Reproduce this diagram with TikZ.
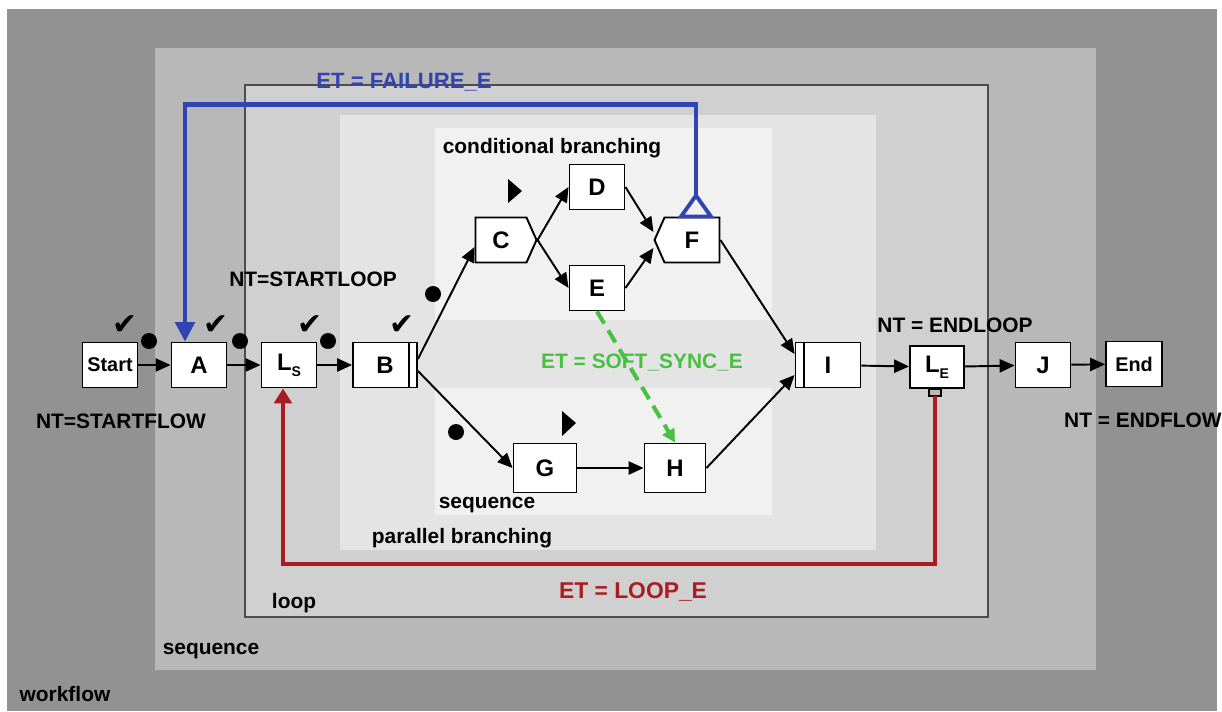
\documentclass[tikz,border=0pt]{standalone}
\usepackage{fontspec}
\setmainfont{Liberation Sans}
\newfontfamily\symfont{DejaVu Sans}
\usepackage{tikz}
\usetikzlibrary{arrows.meta,shapes.symbols}

\definecolor{wfgray}{RGB}{146,146,146}
\definecolor{seqgray}{RGB}{184,184,184}
\definecolor{loopgray}{RGB}{208,208,208}
\definecolor{pargray}{RGB}{228,228,228}
\definecolor{condgray}{RGB}{241,241,241}
\definecolor{failblue}{RGB}{48,68,178}
\definecolor{loopred}{RGB}{168,28,34}
\definecolor{syncgreen}{RGB}{72,192,64}
\newcommand{\lowsub}[1]{\raisebox{-0.45ex}{\fontsize{8}{9}\selectfont #1}}

\begin{document}
\begin{tikzpicture}[x=0.02cm, y=-0.02cm, >={Triangle[length=8.5pt,width=7.5pt]},
  every node/.style={font=\fontsize{11.9}{14}\selectfont\bfseries},
  task/.style={draw, line width=1.1pt, fill=white, minimum width=1.1cm, minimum height=0.9cm,
    inner sep=0pt, font=\fontsize{13.6}{16}\selectfont\bfseries},
  small/.style={font=\fontsize{11.3}{13}\selectfont\bfseries},
  flow/.style={->, line width=1.1pt},
  check/.style={font=\symfont\fontsize{17}{18}\selectfont},
  failbend/.style={draw=failblue, line width=2.4pt, -{Triangle[length=11pt,width=11pt]}},
  loopbend/.style={draw=loopred, line width=2.4pt, -{Triangle[length=8.5pt,width=10pt]}},
  syncline/.style={draw=syncgreen, line width=2.3pt, dash pattern=on 8pt off 4.5pt,
    -{Triangle[length=7.5pt,width=7.5pt]}}]
  % Nested blocks
  \useasboundingbox (0,0) rectangle (1222,711);
  \fill[white] (0,0) rectangle (1222,711);
  \fill[wfgray] (7,9) rectangle (1217,711);
  \fill[seqgray] (155,48) rectangle (1096,670);
  \filldraw[fill=loopgray, draw=gray!60!black, line width=0.6pt] (245,85) rectangle (988,617);
  \fill[pargray] (340,115) rectangle (876,550);
  \fill[condgray] (435,128) rectangle (772,320);
  \fill[condgray] (435,388) rectangle (772,515);

  % Main line
  \node[task, small] (start) at (110,365) {Start};
  \node[task] (A) at (199,365) {A};
  \node[task] (Ls) at (289,365) {L\lowsub{S}};
  \node[task, minimum width=1.28cm] (B) at (385,365) {B};
  \draw[line width=1.1pt] ([xshift=-0.18cm]B.north east) -- ([xshift=-0.18cm]B.south east);

  % Branches
  \node[task, shape=signal, signal to=east, signal pointer angle=132, minimum width=1.22cm] (C) at (501,240) {C};
  \node[task] (D) at (597,187) {D};
  \node[task] (E) at (597,288) {E};
  \node[task, shape=signal, signal to=west, signal pointer angle=132, minimum width=1.3cm] (F) at (692,240) {F};
  \node[task, minimum width=1.26cm, minimum height=0.98cm] (G) at (545,468) {G};
  \node[task, minimum width=1.22cm, minimum height=0.98cm] (H) at (675,468) {H};
  \node[task, minimum width=1.3cm] (I) at (828,365) {I};
  \draw[line width=1.1pt] ([xshift=0.18cm]I.north west) -- ([xshift=0.18cm]I.south west);
  \node[task, minimum width=1.08cm, minimum height=0.84cm] (Le) at (937,367) {L\lowsub{E}};
  \node[task] (J) at (1043,365) {J};
  \node[task, small, minimum width=1.12cm] (end) at (1134,364) {End};

  \draw[flow] (start) -- (A);
  \draw[flow] (A) -- (Ls);
  \draw[flow] (Ls) -- (B);
  \draw[flow] ([yshift=0.12cm]B.east) -- ([yshift=-0.14cm]C.west);
  \draw[flow] ([yshift=-0.12cm]B.east) -- (G.west);
  \draw[flow] (C.east) -- (D.west);
  \draw[flow] (C.east) -- (E.west);
  \draw[flow] (D.east) -- ([yshift=0.16cm]F.west);
  \draw[flow] (E.east) -- ([yshift=-0.16cm]F.west);
  \draw[flow] (G) -- (H);
  \draw[flow] (F.east) -- ([yshift=0.22cm]I.west);
  \draw[flow] (H.east) -- ([yshift=-0.2cm]I.west);
  \draw[flow] (I) -- (Le);
  \draw[flow] (Le) -- (J);
  \draw[flow] (J) -- (end);

  % Events
  \coordinate (fbase) at ([xshift=0.08cm]F.north);
  \draw[failblue, line width=2.2pt, line join=miter] ([xshift=-0.3cm]fbase) -- ([yshift=0.42cm]fbase) -- ([xshift=0.3cm]fbase) -- cycle;
  \draw[failbend] ([yshift=0.42cm]fbase) -- ++(0,-91) -| ([xshift=-0.28cm]A.north);
  \draw[fill=gray!55, line width=0.6pt] ([xshift=-0.16cm]Le.south) rectangle ([xshift=0.08cm,yshift=-0.14cm]Le.south);
  \draw[loopbend] ([xshift=-0.04cm,yshift=-0.14cm]Le.south) -- ++(0,168) -| ([xshift=-0.12cm]Ls.south);
  \draw[syncline] (E.south) -- (H.north);

  % Marks
  \foreach \x [count=\i] in {125,216,310,402}
    \node[check] (chk\i) at (\x,325) {✔};
  \foreach \p in {(149,341),(240,341),(328,341),(433,294),(456,432)}
    \fill \p circle[radius=0.16cm];
  \fill (508,179) -- (522,191) -- (508,203) -- cycle;
  \fill (562,411) -- (576,423) -- (562,436) -- cycle;

  % Labels
  \node[text=failblue, font=\fontsize{12.6}{15}\selectfont\bfseries] (lfail) at (404,82) {ET = FAILURE\_E};
  \node (lcond) at (552,148) {conditional branching};
  \node (lsloop) at (313,279) {NT=STARTLOOP};
  \node (lsflow) at (121,421) {NT=STARTFLOW};
  \node (leloop) at (955,325) {NT = ENDLOOP};
  \node[anchor=west] (leflow) at (1058,420) {NT = ENDFLOW};
  \node[text=syncgreen] (lsync) at (642,362) {ET = SOFT\_SYNC\_E};
  \node (lseqin) at (487,505) {sequence};
  \node (lpar) at (462,538) {parallel branching};
  \node[text=loopred, font=\fontsize{13}{15}\selectfont\bfseries] (lloop) at (633,592) {ET = LOOP\_E};
  \node (lloopbox) at (294,603) {loop};
  \node (lseq) at (211,651) {sequence};
  \node (lwf) at (65,694) {workflow};
\end{tikzpicture}
\end{document}
